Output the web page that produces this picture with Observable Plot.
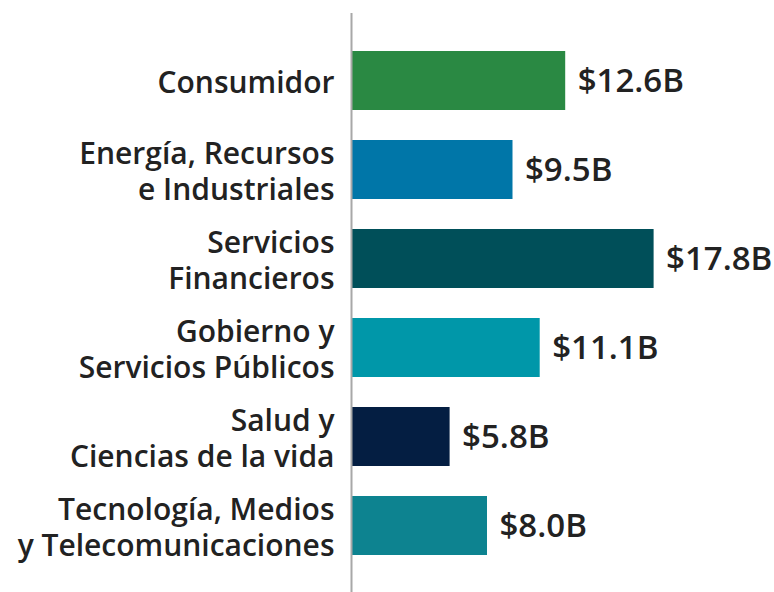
<!DOCTYPE html>
<html>
<head>
<meta charset="utf-8">
<script src="https://cdn.jsdelivr.net/npm/d3@7"></script>
<script src="https://cdn.jsdelivr.net/npm/@observablehq/plot@0.6"></script>
<style>
  html, body { margin: 0; padding: 0; background: #fff; }
  #chart svg { display: block; }
</style>
</head>
<body>
<div id="chart"></div>
<script>
const categories = [
  "Consumidor",
  "Energía, Recursos\ne Industriales",
  "Servicios\nFinancieros",
  "Gobierno y\nServicios Públicos",
  "Salud y\nCiencias de la vida",
  "Tecnología, Medios\ny Telecomunicaciones"
];
const values = [12.6, 9.5, 17.8, 11.1, 5.8, 8.0];
const valueLabels = ["$12.6B", "$9.5B", "$17.8B", "$11.1B", "$5.8B", "$8.0B"];
const colors = ["#2a8943", "#0076a8", "#004f59", "#0097a9", "#041e42", "#0d8390"];

const data = categories.map((c, i) => ({category: c, value: values[i], label: valueLabels[i], color: colors[i]}));

const chart = Plot.plot({
  width: 774,
  height: 592,
  marginLeft: 351,
  marginRight: 15,
  marginTop: 36,
  marginBottom: 21,
  style: {fontFamily: "'Open Sans', sans-serif", color: "#222"},
  x: {domain: [0, 24], axis: null},
  y: {domain: categories, paddingInner: 0.337, paddingOuter: 0.1685, axis: null},
  marks: [
    Plot.barX(data, {y: "category", x: "value", fill: "color"}),
    Plot.axisY({
      label: null,
      tickSize: 0,
      tickPadding: 17,
      fontSize: 30,
      fontWeight: 600,
      lineHeight: 1.2,
      fill: "#222"
    }),
    Plot.ruleX([0], {stroke: "#a8a8a8", strokeWidth: 2, insetTop: -23, insetBottom: -21}),
    Plot.text(data, {
      y: "category", x: "value", text: "label",
      dx: 12, textAnchor: "start",
      fontSize: 33, fontWeight: 600, fill: "#222"
    })
  ]
});
document.getElementById("chart").appendChild(chart);
</script>
</body>
</html>
